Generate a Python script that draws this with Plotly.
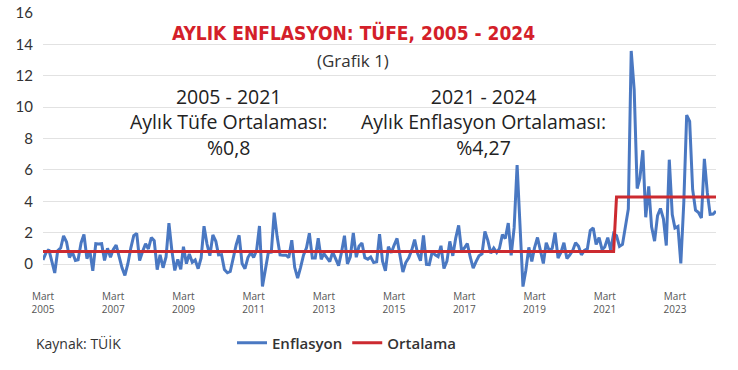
import pandas as pd
import plotly.graph_objects as go

# Monthly CPI change (%), March 2005 - May 2024
months = pd.date_range("2005-03-01", "2024-05-01", freq="MS")

enflasyon = [
    0.26, 0.71, 0.92, 0.10, -0.57, 0.85, 1.02, 1.79, 1.40, 0.42,
    0.75, 0.22, 0.27, 1.34, 1.88, 0.34, 0.85, -0.44, 1.29, 1.27, 1.29, 0.23,
    1.00, 0.43, 0.92, 1.21, 0.50, -0.24, -0.73, 0.02, 1.03, 1.81, 1.95, 0.22,
    0.80, 1.29, 0.96, 1.68, 1.49, -0.36, 0.58, -0.24, 0.45, 2.60, 0.83, -0.41,
    0.29, -0.34, 1.10, 0.02, 0.64, 0.11, 0.25, -0.30, 0.39, 2.41, 1.27, 0.53,
    1.85, 1.45, 0.58, 0.60, -0.36, -0.56, -0.48, 0.40, 1.23, 1.83, 0.03, -0.30,
    0.41, 0.73, 0.42, 0.87, 2.42, -1.43, -0.41, 0.73, 0.75, 3.27, 1.73, 0.58,
    0.56, 0.56, 0.41, 1.52, -0.21, -0.90, -0.23, 0.56, 1.03, 1.96, 0.38, 0.38,
    1.65, 0.30, 0.66, 0.42, 0.15, 0.76, 0.31, -0.10, 0.77, 1.80, 0.01, 0.46,
    1.98, 0.43, 1.13, 1.34, 0.40, 0.31, 0.45, 0.09, 0.14, 1.90, 0.18, -0.44,
    1.10, 0.71, 1.19, 1.63, 0.56, -0.51, 0.09, 0.40, 0.89, 1.55, 0.67, 0.21,
    1.82, -0.02, -0.04, 0.78, 0.58, 0.47, 1.16, -0.29, 0.18, 1.44, 0.52, 1.64,
    2.46, 0.81, 1.02, 1.31, 0.45, -0.27, 0.15, 0.52, 0.65, 2.08, 1.49, 0.69,
    1.02, 0.73, 0.99, 1.87, 1.62, 2.61, 0.55, 2.30, 6.30, 2.67, -1.44, -0.40,
    1.06, 0.16, 1.03, 1.69, 0.95, 0.03, 1.36, 0.86, 0.99, 2.00, 0.38, 0.74,
    1.35, 0.35, 0.57, 0.85, 1.36, 1.13, 0.58, 0.86, 0.97, 2.13, 2.30, 1.25,
    1.68, 0.91, 1.08, 1.68, 0.89, 1.94, 1.80, 1.12, 1.25, 2.39, 3.51, 13.58,
    11.10, 4.81, 5.46, 7.25, 2.98, 4.95, 2.37, 1.46, 3.08, 3.54, 2.88, 1.18,
    6.65, 3.15, 2.29, 2.39, 0.04, 3.92, 9.49, 9.09, 4.75, 3.43, 3.28, 2.93,
    6.70, 4.53, 3.16, 3.18, 3.37,
]

# Period averages
ort_2005_2021 = 0.8
ort_2021_2024 = 4.27
n_period1 = 196   # Mar 2005 - Jun 2021
n_period2 = 35    # Jul 2021 - May 2024
ortalama = [ort_2005_2021] * n_period1 + [ort_2021_2024] * n_period2

tick_vals = ["2005-03-01", "2007-03-01", "2009-03-01", "2011-03-01", "2013-03-01",
             "2015-03-01", "2017-03-01", "2019-03-01", "2021-03-01", "2023-03-01"]
tick_text = ["Mart<br>2005", "Mart<br>2007", "Mart<br>2009", "Mart<br>2011", "Mart<br>2013",
             "Mart<br>2015", "Mart<br>2017", "Mart<br>2019", "Mart<br>2021", "Mart<br>2023"]
y_ticks = [0, 2, 4, 6, 8, 10, 12, 14, 16]

W, H = 738, 370
PLOT_L, PLOT_R, PLOT_T, PLOT_B = 43, 716, 12, 289   # window pixels
L, R, T, B = PLOT_L, W - PLOT_R, PLOT_T, H - PLOT_B
PW, PH = PLOT_R - PLOT_L, PLOT_B - PLOT_T


def px(x):
    return (x - PLOT_L) / PW


def py(y):
    return (PLOT_B - y) / PH


TXT = "Open Sans, sans-serif"
TICK = "Lato, sans-serif"

fig = go.Figure()
fig.add_trace(go.Scatter(x=months, y=enflasyon, mode="lines", name="Enflasyon",
                         line=dict(color="#4a78c2", width=3)))
fig.add_trace(go.Scatter(x=months, y=ortalama, mode="lines", name="Ortalama",
                         line=dict(color="#cc2a30", width=3)))

fig.update_layout(
    width=W, height=H,
    margin=dict(l=L, r=R, t=T, b=B, autoexpand=False),
    paper_bgcolor="white", plot_bgcolor="white",
    showlegend=True,
    legend=dict(orientation="h", x=px(232), y=py(343), xanchor="left", yanchor="middle",
                font=dict(family=TXT, size=15, color="#333333", weight=600),
                bgcolor="rgba(0,0,0,0)", itemwidth=30, tracegroupgap=0),
    xaxis=dict(range=["2005-03-01", "2024-05-01"], tickvals=tick_vals, ticktext=tick_text,
               showgrid=False, zeroline=False, showline=False,
               tickfont=dict(family=TXT, size=10, color="#555555")),
    yaxis=dict(range=[-1.594, 16.064], tickvals=y_ticks, showgrid=True,
               gridcolor="#e2e2e2", gridwidth=1, zeroline=False, showline=False,
               ticklabelstandoff=9,
               tickfont=dict(family=TICK, size=15, color="#333333")),
)

annotations = [
    dict(text="<b>AYLIK ENFLASYON: TÜFE, 2005 - 2024</b>", x=px(353.5), y=py(33),
         font=dict(family="DejaVu Sans Condensed, sans-serif", size=19, color="#d41f2a")),
    dict(text="(Grafik 1)", x=px(353), y=py(61),
         font=dict(family=TXT, size=17, color="#333333")),
    dict(text="2005 - 2021<br>Aylık Tüfe Ortalaması:<br>%0,8", x=px(228), y=py(122),
         font=dict(family=TXT, size=19.5, color="#222222")),
    dict(text="2021 - 2024<br>Aylık Enflasyon Ortalaması:<br>%4,27", x=px(483), y=py(122),
         font=dict(family=TXT, size=19.5, color="#222222")),
    dict(text="Kaynak: TÜİK", x=px(34), y=py(343), xanchor="left",
         font=dict(family=TXT, size=14, color="#333333")),
]
for a in annotations:
    a.setdefault("xanchor", "center")
    a.update(xref="paper", yref="paper", yanchor="middle", showarrow=False)
    fig.add_annotation(**a)

fig.write_html("out.html", config={"displayModeBar": False},
               post_script="document.body.style.margin='0';")
